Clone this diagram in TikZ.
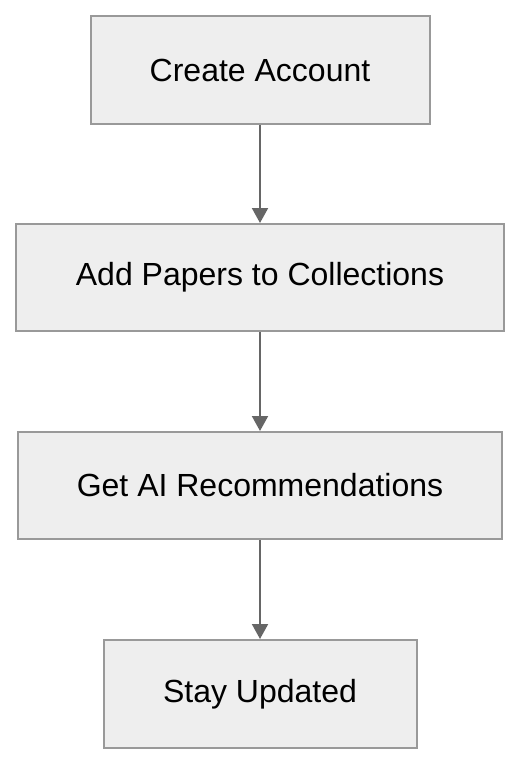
\documentclass[tikz,border=0pt]{standalone}
\usepackage{fontspec}
\setmainfont{Liberation Sans}
\usetikzlibrary{arrows.meta}
\definecolor{boxfill}{HTML}{EEEEEE}
\definecolor{boxline}{HTML}{999999}
\definecolor{arrowc}{HTML}{666666}
\begin{document}
\begin{tikzpicture}[x=1pt,y=1pt,
  stepbox/.style={draw=boxline,fill=boxfill,line width=2pt,inner sep=0pt,
    font=\fontsize{32}{38}\selectfont,text=black},
  flow/.style={draw=arrowc,line width=2pt,-{Triangle[width=16pt,length=15pt]}}]
\useasboundingbox (0,0) rectangle (520,-764);
\node[stepbox,minimum width=339pt,minimum height=108pt] (a) at (260,-70) {Create Account};
\node[stepbox,minimum width=488pt,minimum height=107pt] (b) at (260,-277.5) {Add Papers to Collections};
\node[stepbox,minimum width=484pt,minimum height=107pt] (c) at (260,-485.5) {Get AI Recommendations};
\node[stepbox,minimum width=313pt,minimum height=108pt] (d) at (260,-694) {Stay Updated};
\draw[flow] (a) -- (b);
\draw[flow] (b) -- (c);
\draw[flow] (c) -- (d);
\end{tikzpicture}
\end{document}
